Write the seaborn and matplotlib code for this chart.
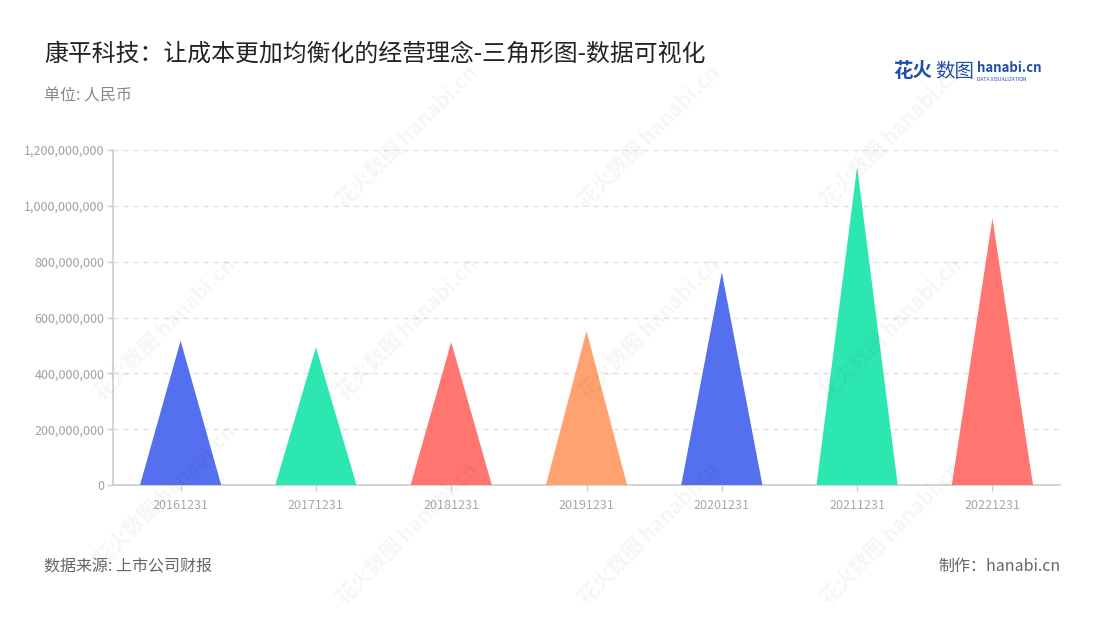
import matplotlib
matplotlib.use("Agg")
import matplotlib.pyplot as plt
from matplotlib.patches import Polygon
from matplotlib.ticker import FuncFormatter
import seaborn as sns
import pandas as pd

# data
dates = ["20161231", "20171231", "20181231", "20191231", "20201231", "20211231", "20221231"]
values = [517e6, 494e6, 512e6, 552e6, 762e6, 1140e6, 955e6]
colors = ["#5470ee", "#2ce8b0", "#ff7671", "#ffa26f", "#5470ee", "#2ce8b0", "#ff7671"]

sns.set_theme(style="white")
plt.rcParams['font.family'] = ['Noto Sans CJK SC', 'DejaVu Sans']

fig = plt.figure(figsize=(11, 6.2), dpi=100)
ax = fig.add_axes([0.1027, 0.2177, 0.861, 0.5403])

df = pd.DataFrame({"date": dates, "value": values})
sns.barplot(data=df, x="date", y="value", width=0.6, ax=ax, color="white")

# swap each bar for a triangle of the same base and height
for bar, c in zip(list(ax.patches), colors):
    x0 = bar.get_x()
    w = bar.get_width()
    h = bar.get_height()
    tri = Polygon([(x0, 0), (x0 + w / 2, h), (x0 + w, 0)], closed=True,
                  facecolor=c, edgecolor="none", zorder=3)
    ax.add_patch(tri)
    bar.remove()

ax.set_xlim(-0.5, 6.5)
ax.set_ylim(0, 1.2e9)
ax.set_yticks([0, 2e8, 4e8, 6e8, 8e8, 10e8, 12e8])
ax.yaxis.set_major_formatter(FuncFormatter(lambda v, p: f"{int(v):,}"))
ax.set_xlabel("")
ax.set_ylabel("")

ax.grid(axis="y", color="#dddddd", linestyle=(0, (4, 4)), linewidth=0.9)
ax.set_axisbelow(True)
for s in ["top", "right"]:
    ax.spines[s].set_visible(False)
for s in ["left", "bottom"]:
    ax.spines[s].set_color("#cccccc")
    ax.spines[s].set_linewidth(1.2)

ax.tick_params(axis="y", colors="#cccccc", labelcolor="#a0a0a0", labelsize=9,
               length=4, width=1, left=True, pad=2)
ax.tick_params(axis="x", colors="#cccccc", labelcolor="#a8a8a8", labelsize=9,
               length=4, width=1, bottom=True, pad=6)

# watermark
for wx, wy in [(0.37, 0.78), (0.59, 0.78), (0.81, 0.78), (0.15, 0.47), (0.37, 0.47),
               (0.59, 0.47), (0.81, 0.47), (0.15, 0.2), (0.37, 0.14), (0.59, 0.14), (0.81, 0.14)]:
    fig.text(wx, wy, "花火数图 hanabi.cn", fontsize=15, color="#000000", alpha=0.04,
             rotation=45, ha="center", va="center", fontweight="bold")

fig.text(0.04, 0.912, "康平科技：让成本更加均衡化的经营理念-三角形图-数据可视化",
         fontsize=17.2, color="#222222", ha="left", va="center")
fig.text(0.04, 0.845, "单位: 人民币", fontsize=11.5, color="#888888", ha="left", va="center")
fig.text(0.04, 0.086, "数据来源: 上市公司财报", fontsize=11.5, color="#666666", ha="left", va="center")
fig.text(0.964, 0.086, "制作：hanabi.cn", fontsize=11.5, color="#666666", ha="right", va="center")

# logo
fig.text(0.812, 0.884, "花火", fontsize=14, color="#1f4fa8", fontweight="bold", ha="left", va="center")
fig.text(0.85, 0.884, "数图", fontsize=14, color="#1f4fa8", ha="left", va="center")
fig.text(0.888, 0.891, "hanabi.cn", fontsize=9.5, color="#1f4fa8", fontweight="bold", ha="left", va="center")
fig.text(0.888, 0.872, "DATA VISUALIZATION", fontsize=3.6, color="#1f4fa8", ha="left", va="center")

fig.savefig("out.png", dpi=100, facecolor="white")
